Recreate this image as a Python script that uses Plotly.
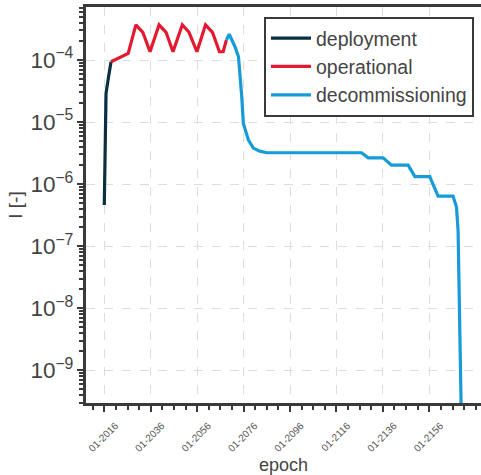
import plotly.graph_objects as go
import pandas as pd

# ---- data (decimal years, values of I) ----
deploy_year = [2016.0, 2016.75, 2017.85, 2018.9]
deploy_I = [4.6e-7, 2.9e-5, 5.4e-5, 9.4e-5]

oper_year = [2018.9, 2026.3, 2029.6, 2032.6, 2035.7, 2039.6, 2042.6, 2045.6,
             2049.6, 2052.5, 2055.9, 2059.6, 2062.6, 2065.6, 2067.2, 2068.6]
oper_I = [9.4e-5, 1.28e-4, 3.7e-4, 2.8e-4, 1.36e-4, 3.7e-4, 2.8e-4, 1.36e-4,
          3.7e-4, 2.8e-4, 1.36e-4, 3.7e-4, 2.8e-4, 1.36e-4, 1.36e-4, 2.1e-4]

decom_year = [2068.6, 2069.8, 2072.3, 2073.8, 2075.2, 2075.9, 2078.1, 2080.2,
              2083.0, 2086.0, 2126.8, 2129.7, 2136.1, 2139.7, 2146.9, 2149.8,
              2156.2, 2159.8, 2166.2, 2167.7, 2168.4, 2169.9]
decom_I = [2.1e-4, 2.6e-4, 1.64e-4, 1.13e-4, 2.56e-5, 9.5e-6, 5.1e-6, 3.8e-6,
           3.4e-6, 3.2e-6, 3.2e-6, 2.65e-6, 2.65e-6, 2.02e-6, 2.02e-6, 1.32e-6,
           1.32e-6, 6.4e-7, 6.4e-7, 4.3e-7, 1.8e-7, 1e-10]

tick_years = [2016, 2036, 2056, 2076, 2096, 2116, 2136, 2156]

series_names = ["deployment", "operational", "decommissioning"]
series_colors = ["#0b2e42", "#e31a2f", "#169bd8"]


def to_dt(years):
    out = []
    for y in years:
        yi = int(y)
        start = pd.Timestamp(year=yi, month=1, day=1)
        out.append(start + pd.Timedelta(days=(y - yi) * 365.25))
    return out


fig = go.Figure()
for name, color, xs, ys in zip(series_names, series_colors,
                               [deploy_year, oper_year, decom_year],
                               [deploy_I, oper_I, decom_I]):
    fig.add_trace(go.Scatter(x=to_dt(xs), y=ys, mode="lines", name=name,
                             line=dict(color=color, width=3.2)))

axis_col = "#3a3a3a"
fig.update_layout(
    width=481, height=475,
    margin=dict(l=86, r=0, t=7, b=72),
    paper_bgcolor="white", plot_bgcolor="white",
    font=dict(family="Liberation Sans, Arial, sans-serif", color="#444"),
    showlegend=True,
    legend=dict(x=0.4506, y=0.975, xanchor="left", yanchor="top",
                bordercolor=axis_col, borderwidth=2, bgcolor="white",
                font=dict(size=19.5, color="#444"), tracegroupgap=0,
                itemwidth=40),
)
fig.update_xaxes(
    type="date",
    range=[to_dt([2008.12])[0], to_dt([2178.27])[0]],
    tickvals=to_dt(tick_years), tickformat="%m-%Y",
    tickangle=-45, tickfont=dict(size=10, color="#555"),
    ticklabelshift=11, ticklabelstandoff=4,
    ticks="outside", ticklen=6, tickwidth=2, tickcolor=axis_col,
    minor=dict(ticks="outside", ticklen=4, tickwidth=2, tickcolor=axis_col,
               tick0="2016-01-01", dtick="M60", showgrid=False),
    showline=True, linewidth=3, linecolor=axis_col, mirror=True,
    showgrid=True, gridcolor="#dddddd", griddash="dash", gridwidth=1,
    title=dict(text="epoch", font=dict(size=18, color="#444"), standoff=6),
    zeroline=False,
)
fig.update_yaxes(
    type="log", range=[-9.53, -3.145], dtick=1,
    exponentformat="power", showexponent="all",
    tickfont=dict(size=18, color="#444"),
    ticks="outside", ticklen=6, tickwidth=2, tickcolor=axis_col,
    minor=dict(ticks="outside", ticklen=4, tickwidth=1.5, tickcolor=axis_col,
               showgrid=False),
    showline=True, linewidth=3, linecolor=axis_col, mirror=False,
    showgrid=True, gridcolor="#dddddd", griddash="dash", gridwidth=1,
    title=dict(text="I [-]", font=dict(size=19, color="#444"), standoff=3),
    zeroline=False,
)

fig.write_html("out.html")
